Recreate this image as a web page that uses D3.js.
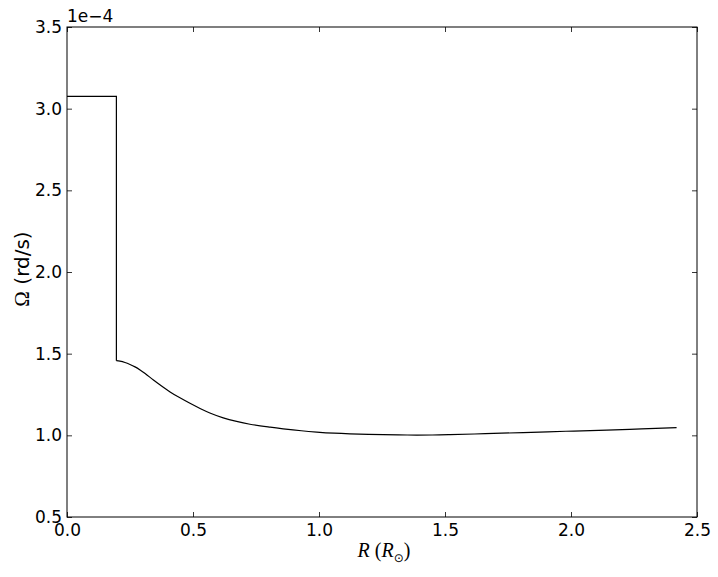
<!DOCTYPE html>
<html>
<head>
<meta charset="utf-8">
<script src="https://cdn.jsdelivr.net/npm/d3@7"></script>
<style>
  body { margin: 0; background: #fff; }
  text { font-family: "DejaVu Sans", sans-serif; }
</style>
</head>
<body>
<div id="chart"></div>
<script>
// Core (solid-body) part: flat then vertical drop
var coreR = [0.0, 0.196, 0.196];
var coreOmega = [3.075, 3.075, 1.457];

// Envelope part (Omega in units of 1e-4 rd/s)
var envR = [0.196, 0.21, 0.23, 0.25, 0.27, 0.29, 0.31, 0.343, 0.37, 0.409, 0.45, 0.488, 0.53, 0.567, 0.62, 0.673, 0.726, 0.806, 0.858, 0.93, 0.991, 1.06, 1.123, 1.255, 1.35, 1.45, 1.52, 1.66, 1.81, 1.98, 2.142, 2.28, 2.419];
var envOmega = [1.457, 1.454, 1.446, 1.434, 1.419, 1.400, 1.378, 1.339, 1.308, 1.266, 1.228, 1.196, 1.163, 1.137, 1.107, 1.085, 1.068, 1.050, 1.040, 1.028, 1.020, 1.013, 1.009, 1.004, 1.002, 1.002, 1.004, 1.010, 1.017, 1.025, 1.032, 1.039, 1.047];

var xTicks = [0.0, 0.5, 1.0, 1.5, 2.0, 2.5];
var yTicks = [0.5, 1.0, 1.5, 2.0, 2.5, 3.0, 3.5];

var margin = { top: 27, right: 21, bottom: 60, left: 67 },
    width = 718 - margin.left - margin.right,
    height = 577 - margin.top - margin.bottom;

var svg = d3.select("#chart")
    .append("svg")
    .attr("width", 718)
    .attr("height", 577)
    .append("g")
    .attr("transform", "translate(" + margin.left + "," + margin.top + ")");

var xScale = d3.scaleLinear().domain([0, 2.5]).range([0, width]);
var yScale = d3.scaleLinear().domain([0.5, 3.5]).range([height, 0]);

var fmt = d3.format(".1f");

// axes with inward ticks
var xAxis = svg.append("g")
    .attr("transform", "translate(0," + height + ")")
    .call(d3.axisBottom(xScale).tickValues(xTicks).tickFormat(fmt).tickSize(-5).tickPadding(7));
var yAxis = svg.append("g")
    .call(d3.axisLeft(yScale).tickValues(yTicks).tickFormat(fmt).tickSize(-5).tickPadding(5));
var xTop = svg.append("g")
    .call(d3.axisTop(xScale).tickValues(xTicks).tickFormat("").tickSize(-5));
var yRight = svg.append("g")
    .attr("transform", "translate(" + width + ",0)")
    .call(d3.axisRight(yScale).tickValues(yTicks).tickFormat("").tickSize(-5));

[xAxis, yAxis, xTop, yRight].forEach(function (g) {
    g.select(".domain").remove();
    g.selectAll(".tick line").attr("stroke", "#000").attr("stroke-width", 0.8);
    g.selectAll("text")
        .style("font-family", "'DejaVu Sans', sans-serif")
        .style("font-size", "17px")
        .attr("fill", "#000");
});

// frame
svg.append("rect")
    .attr("x", 0).attr("y", 0)
    .attr("width", width).attr("height", height)
    .attr("fill", "none")
    .attr("stroke", "#000")
    .attr("stroke-width", 1);

// data lines
var coreData = coreR.map(function (r, i) { return { x: r, y: coreOmega[i] }; });
var envData = envR.map(function (r, i) { return { x: r, y: envOmega[i] }; });

svg.append("path")
    .datum(coreData)
    .attr("fill", "none")
    .attr("stroke", "#000")
    .attr("stroke-width", 1.2)
    .attr("d", d3.line()
        .x(function (d) { return xScale(d.x); })
        .y(function (d) { return yScale(d.y); }));

svg.append("path")
    .datum(envData)
    .attr("fill", "none")
    .attr("stroke", "#000")
    .attr("stroke-width", 1.2)
    .attr("d", d3.line()
        .curve(d3.curveCatmullRom.alpha(0.5))
        .x(function (d) { return xScale(d.x); })
        .y(function (d) { return yScale(d.y); }));

// offset text
svg.append("text")
    .attr("x", 0)
    .attr("y", -5)
    .style("font-size", "17px")
    .text("1e\u22124");

// x label
var xl = svg.append("text")
    .attr("x", width / 2 + 2)
    .attr("y", 557 - margin.top)
    .attr("text-anchor", "middle")
    .style("font-size", "20px");
xl.append("tspan").style("font-family", "'Liberation Serif', serif").style("font-style", "italic").text("R");
xl.append("tspan").style("font-family", "'Liberation Serif', serif").text(" (");
xl.append("tspan").style("font-family", "'Liberation Serif', serif").style("font-style", "italic").text("R");
xl.append("tspan").style("font-family", "'DejaVu Sans', sans-serif").style("font-size", "12px").attr("dy", 5).text("\u2299");
xl.append("tspan").style("font-family", "'Liberation Serif', serif").attr("dy", -5).text(")");

// y label
var yl = svg.append("text")
    .attr("transform", "translate(" + (29 - margin.left) + "," + (269 - margin.top) + ") rotate(-90)")
    .attr("text-anchor", "middle")
    .style("font-size", "20px");
yl.append("tspan").style("font-family", "'Liberation Serif', serif").style("font-size", "21px").text("\u03A9");
yl.append("tspan").text(" (rd/s)");
</script>
</body>
</html>
